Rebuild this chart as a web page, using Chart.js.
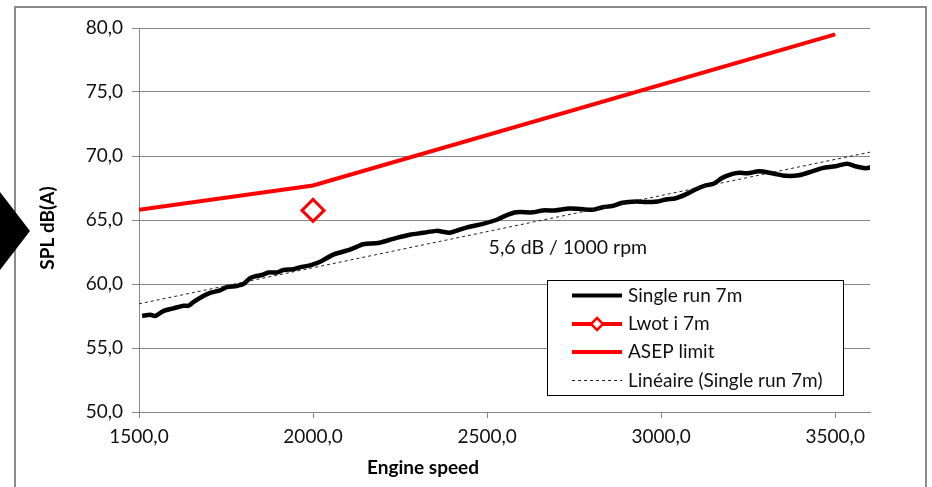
<!DOCTYPE html>
<html>
<head>
<meta charset="utf-8">
<script src="https://cdn.jsdelivr.net/npm/chart.js@4.4.1/dist/chart.umd.min.js"></script>
<style>
html,body{margin:0;padding:0;background:#fff;}
#wrap{width:932px;height:487px;}
</style>
</head>
<body>
<div id="wrap"><canvas id="c" width="932" height="487"></canvas></div>
<script>
// ---- data ----
const runRpm = [1509,1532,1547,1571,1599,1628,1642,1657,1681,1704,1733,1752,1781,1800,1819,1833,1853,1872,1896,1915,1943,1962,1996,2025,2058,2096,2125,2144,2187,2201,2240,2278,2316,2354,2369,2392,2416,2440,2488,2526,2550,2584,2631,2660,2694,2737,2770,2803,2832,2861,2889,2928,2956,2990,3014,3042,3071,3100,3128,3152,3176,3205,3224,3248,3281,3319,3358,3396,3434,3463,3501,3534,3558,3587,3601];
const runSpl = [57.5,57.6,57.5,57.9,58.1,58.3,58.3,58.6,59.0,59.3,59.5,59.75,59.85,60.0,60.45,60.6,60.7,60.9,60.9,61.1,61.15,61.3,61.5,61.8,62.3,62.6,62.9,63.1,63.2,63.3,63.6,63.85,64.0,64.15,64.1,64.0,64.2,64.4,64.7,65.0,65.3,65.6,65.6,65.75,65.75,65.9,65.85,65.8,66.0,66.1,66.35,66.45,66.4,66.45,66.6,66.7,67.0,67.4,67.7,67.85,68.3,68.6,68.7,68.65,68.8,68.65,68.45,68.5,68.8,69.05,69.2,69.4,69.2,69.05,69.1];
const lwotRpm = [2000];
const lwotSpl = [65.75];
const asepRpm = [1500,2000,3500];
const asepSpl = [65.8,67.7,79.5];
const trendRpm = [1500,3600];
const trendSpl = [58.45,70.3];
const xTicks = [1500,2000,2500,3000,3500];
const yTicks = [50,55,60,65,70,75,80];
const seriesNames = ['Single run 7m','Lwot i 7m','ASEP limit','Linéaire (Single run 7m)'];
const annText = '5,6 dB / 1000 rpm';
const annRpm = [2732];
const annSpl = [62.85];

const FONT = 'Lato, "Open Sans", sans-serif';
const GRID = '#878787';
const fmt = v => Number(v).toFixed(1).replace('.', ',');
const pts = (xs, ys) => xs.map((x, i) => ({x: x, y: ys[i]}));

const decor = {
  id: 'decor',
  beforeDraw(chart) {
    const ctx = chart.ctx;
    ctx.save();
    ctx.fillStyle = '#fff';
    ctx.fillRect(0, 0, chart.width, chart.height);
    ctx.strokeStyle = '#8a8a8a';
    ctx.lineWidth = 2;
    ctx.strokeRect(15, 7, 911, 520);
    ctx.fillStyle = '#000';
    ctx.beginPath();
    ctx.moveTo(0, 192); ctx.lineTo(30, 231); ctx.lineTo(0, 270); ctx.closePath();
    ctx.fill();
    ctx.restore();
  },
  afterDraw(chart) {
    const ctx = chart.ctx;
    const xs = chart.scales.x, ys = chart.scales.y;
    ctx.save();
    // axis titles
    ctx.fillStyle = '#000';
    ctx.font = 'bold 19px ' + FONT;
    ctx.textAlign = 'center';
    ctx.textBaseline = 'middle';
    ctx.fillText('Engine speed', 423, 468);
    ctx.save();
    ctx.translate(48, 228);
    ctx.rotate(-Math.PI / 2);
    ctx.fillText('SPL dB(A)', 0, 0);
    ctx.restore();
    // annotation
    ctx.font = '19.5px ' + FONT;
    ctx.fillStyle = '#111';
    ctx.fillText(annText, xs.getPixelForValue(annRpm[0]), ys.getPixelForValue(annSpl[0]));
    // legend
    const L = 547, T = 280, R = 843, B = 395;
    ctx.fillStyle = '#fff';
    ctx.fillRect(L, T, R - L, B - T);
    ctx.strokeStyle = '#000';
    ctx.lineWidth = 1;
    ctx.strokeRect(L + 0.5, T + 0.5, R - L, B - T);
    const rows = [295.5, 324, 352, 380.5];
    const x0 = 572, x1 = 622;
    chart.data.datasets.forEach((ds, i) => {
      const yy = rows[i];
      ctx.save();
      ctx.strokeStyle = ds.borderColor;
      ctx.lineWidth = i === 3 ? 1 : 4;
      ctx.setLineDash(i === 3 ? [3, 3] : []);
      ctx.beginPath(); ctx.moveTo(x0, yy); ctx.lineTo(x1, yy); ctx.stroke();
      ctx.setLineDash([]);
      if (i === 1) {
        const cx = (x0 + x1) / 2, r = 6;
        ctx.fillStyle = '#fff';
        ctx.lineWidth = 2.5;
        ctx.beginPath();
        ctx.moveTo(cx, yy - r); ctx.lineTo(cx + r, yy); ctx.lineTo(cx, yy + r); ctx.lineTo(cx - r, yy); ctx.closePath();
        ctx.fill(); ctx.stroke();
      }
      ctx.restore();
      ctx.fillStyle = '#111';
      ctx.font = '19px ' + FONT;
      ctx.textAlign = 'left';
      ctx.textBaseline = 'middle';
      ctx.fillText(ds.label, 628, yy);
    });
    ctx.restore();
  }
};

new Chart(document.getElementById('c'), {
  type: 'line',
  data: {
    datasets: [
      {label: seriesNames[0], data: pts(runRpm, runSpl), borderColor: '#000', borderWidth: 4.5, pointRadius: 0, tension: 0.3, fill: false, order: 2},
      {label: seriesNames[1], data: pts(lwotRpm, lwotSpl), borderColor: '#ff0000', backgroundColor: '#fff', borderWidth: 3, pointStyle: 'rectRot', pointRadius: 11, pointBorderWidth: 3, pointBackgroundColor: '#fff', pointBorderColor: '#ff0000', showLine: false, order: 3},
      {label: seriesNames[2], data: pts(asepRpm, asepSpl), borderColor: '#ff0000', borderWidth: 4, pointRadius: 0, tension: 0, fill: false, order: 4},
      {label: seriesNames[3], data: pts(trendRpm, trendSpl), borderColor: '#222', borderWidth: 1, borderDash: [3, 3], pointRadius: 0, fill: false, order: 1}
    ]
  },
  options: {
    responsive: false,
    animation: false,
    layout: {padding: {left: 0, right: 62, top: 28, bottom: 0}},
    plugins: {legend: {display: false}, tooltip: {enabled: false}},
    scales: {
      x: {
        type: 'linear', min: 1500, max: 3600,
        afterBuildTicks: s => { s.ticks = xTicks.map(v => ({value: v})); },
        afterFit: s => { s.height = 75; },
        grid: {drawOnChartArea: false, drawTicks: true, tickLength: 6, color: GRID},
        border: {display: true, color: GRID, width: 1},
        ticks: {callback: v => fmt(v), font: {family: FONT, size: 19}, color: '#111', padding: 7, maxRotation: 0, autoSkip: false}
      },
      y: {
        type: 'linear', min: 50, max: 80,
        afterBuildTicks: s => { s.ticks = yTicks.map(v => ({value: v})); },
        afterFit: s => { s.width = 139; },
        grid: {drawTicks: true, tickLength: 7, color: GRID},
        border: {display: true, color: GRID, width: 1},
        ticks: {callback: v => fmt(v), font: {family: FONT, size: 19}, color: '#111', padding: 9, autoSkip: false}
      }
    }
  },
  plugins: [decor]
});
</script>
</body>
</html>
